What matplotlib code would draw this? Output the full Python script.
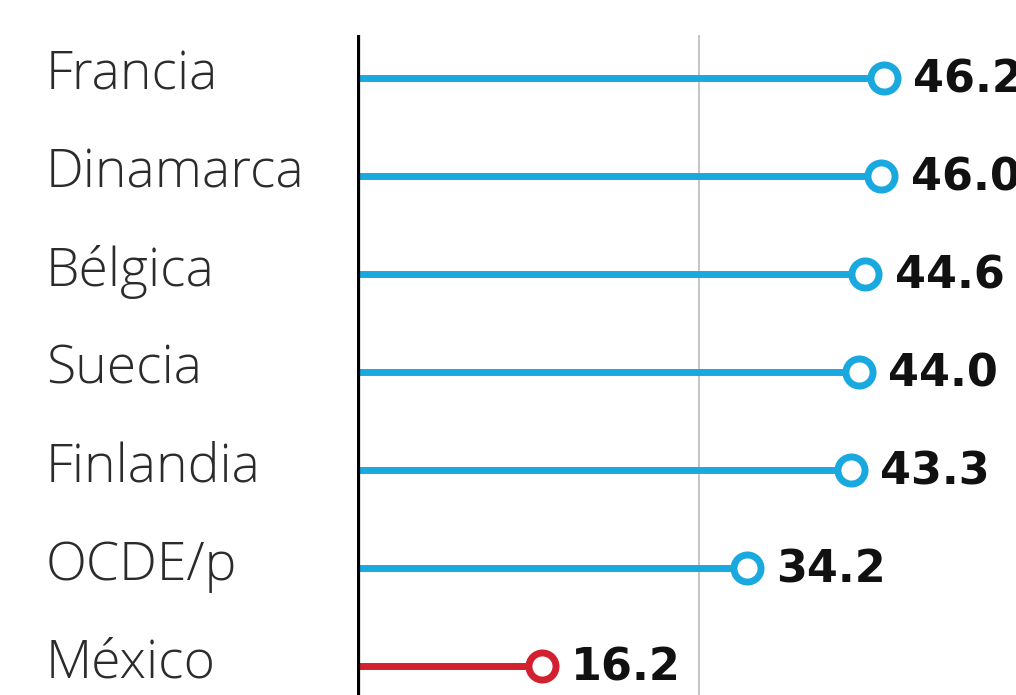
import numpy as np
import matplotlib.pyplot as plt

paises = ["Francia", "Dinamarca", "Bélgica", "Suecia", "Finlandia", "OCDE/p", "México"]
valores = [46.2, 46.0, 44.6, 44.0, 43.3, 34.2, 16.2]
colores = ["#1AA9DF"] * 6 + ["#D2202F"]

fig = plt.figure(figsize=(10.16, 6.95), dpi=100)
ax = fig.add_axes([357 / 1016, 0, 1 - 357 / 1016, 1 - 35 / 695])
ax.set_xlim(0, (1016 - 357) / 11.4)
ax.set_ylim(6.296, -0.439)

ax.axvline(30, color="#bbbbbb", lw=1.2, zorder=0)

y = np.arange(len(paises))
for yi, v, c in zip(y, valores, colores):
    ax.plot([0, v], [yi, yi], color=c, lw=5, solid_capstyle="butt", zorder=2)
    ax.plot(v, yi, "o", ms=19.5, mfc="white", mec=c, mew=5, zorder=3)
    ax.text(v + 2.6, yi + 0.02, f"{v:.1f}", va="center", ha="left",
            fontsize=32, fontweight="bold", family="DejaVu Sans", color="#111111")
    ax.text(-27.3, yi - 0.02, paises[yi], va="center", ha="left",
            fontsize=38.5, fontweight="light", family="Open Sans", color="#2b2b2b",
            clip_on=False)

ax.axvline(0, color="black", lw=4.5, zorder=4)

for s in ax.spines.values():
    s.set_visible(False)
ax.set_xticks([])
ax.set_yticks([])

fig.savefig("out.png", dpi=100)
